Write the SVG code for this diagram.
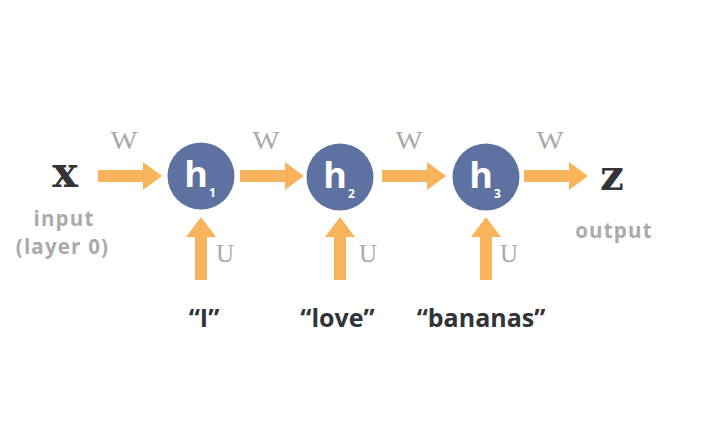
<svg xmlns="http://www.w3.org/2000/svg" xmlns:xlink="http://www.w3.org/1999/xlink" width="711" height="422" viewBox="0 0 711 422">
<style>
.bg{fill:#ffffff}
.arrow{fill:#f8b45c}
.node{fill:#5e72a2}
.htxt{font-family:"Open Sans","DejaVu Sans",sans-serif;font-weight:bold;fill:#ffffff;text-anchor:middle}
.var{font-family:"DejaVu Serif","Liberation Serif",serif;font-weight:bold;fill:#333438;text-anchor:middle}
.wlbl{font-family:"Liberation Serif","DejaVu Serif",serif;fill:#a9a9a9;text-anchor:middle;font-size:25px}
.gray{font-family:"Open Sans","DejaVu Sans",sans-serif;font-weight:bold;fill:#aaaaaa;text-anchor:middle;font-size:20.5px;letter-spacing:1.2px}
.word{font-family:"Open Sans","DejaVu Sans",sans-serif;font-weight:bold;fill:#333438;text-anchor:middle;font-size:25px}
</style>
<defs>
<path id="harrow" d="M0,-6 H45 V-14 L64,0 L45,14 V6 H0 Z"/>
<path id="varrow" d="M-6,63 V20 H-15 L0,0 L15,20 H6 V63 Z"/>
</defs>
<rect class="bg" x="0" y="0" width="711" height="422"/>
<g id="connectors" class="arrow">
<use xlink:href="#harrow" href="#harrow" transform="translate(98,176)"/>
<use xlink:href="#harrow" href="#harrow" transform="translate(240,176)"/>
<use xlink:href="#harrow" href="#harrow" transform="translate(382,176)"/>
<use xlink:href="#harrow" href="#harrow" transform="translate(524,176)"/>
<use xlink:href="#varrow" href="#varrow" transform="translate(201,217)"/>
<use xlink:href="#varrow" href="#varrow" transform="translate(340,217)"/>
<use xlink:href="#varrow" href="#varrow" transform="translate(486,217)"/>
</g>
<g id="labels-w">
<text class="wlbl" x="124" y="149" textLength="27" lengthAdjust="spacingAndGlyphs">W</text>
<text class="wlbl" x="266" y="149" textLength="27" lengthAdjust="spacingAndGlyphs">W</text>
<text class="wlbl" x="409" y="149" textLength="27" lengthAdjust="spacingAndGlyphs">W</text>
<text class="wlbl" x="550" y="149" textLength="27" lengthAdjust="spacingAndGlyphs">W</text>
</g>
<g id="labels-u">
<text class="wlbl" x="225" y="262">U</text>
<text class="wlbl" x="368" y="262">U</text>
<text class="wlbl" x="509" y="262">U</text>
</g>
<g id="node-x">
<text class="var" x="65" y="187" font-size="43">x</text>
<text class="gray" x="64" y="225.5">input</text>
<text class="gray" x="62.5" y="253.5">(layer 0)</text>
</g>
<g id="node-h1">
<circle class="node" cx="201" cy="176" r="33.5"/>
<text class="htxt" x="196" y="187" font-size="36">h</text>
<text class="htxt" x="212.5" y="197" font-size="12">1</text>
</g>
<g id="node-h2">
<circle class="node" cx="340" cy="177" r="33.5"/>
<text class="htxt" x="335" y="188" font-size="36">h</text>
<text class="htxt" x="351.5" y="198" font-size="12">2</text>
</g>
<g id="node-h3">
<circle class="node" cx="486" cy="177" r="33.5"/>
<text class="htxt" x="481" y="188" font-size="36">h</text>
<text class="htxt" x="497.5" y="198" font-size="12">3</text>
</g>
<g id="node-z">
<text class="var" x="612" y="190" font-size="42">z</text>
<text class="gray" x="614" y="237.5">output</text>
</g>
<g id="words">
<text class="word" x="204" y="327">“I”</text>
<text class="word" x="337.5" y="327">“love”</text>
<text class="word" x="481" y="327">“bananas”</text>
</g>
</svg>
